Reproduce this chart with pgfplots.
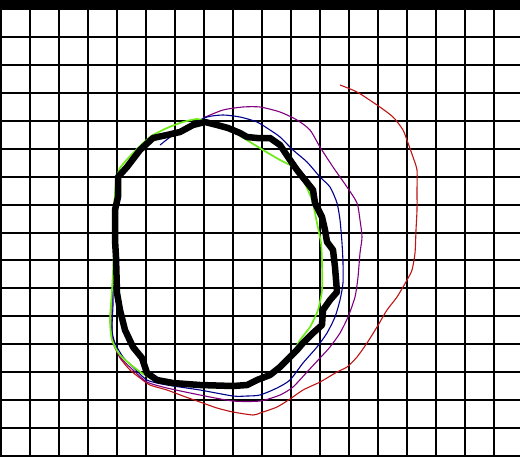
\documentclass[border=0pt]{standalone}
\usepackage{pgfplots}
\pgfplotsset{compat=1.18}
\definecolor{cred}{RGB}{190,20,20}
\definecolor{cpurple}{RGB}{128,0,128}
\definecolor{cblue}{RGB}{0,0,140}
\definecolor{cgreen}{RGB}{110,235,20}
\begin{document}
\begin{tikzpicture}
\begin{axis}[
  name=ax,
  scale only axis,
  width=520bp, height=457bp,
  xmin=0, xmax=520, ymin=0, ymax=457,
  y dir=reverse,
  axis line style={draw=none},
  xtick={1,30,59,88,117,146,175,204,233,262,291,320,349,378,407,436,465,494},
  ytick={9,37,65,93,121,149,177,205,233,260,288,316,344,372,400,428,456},
  xticklabels={}, yticklabels={},
  major tick length=0pt,
  grid=major,
  major grid style={black, line width=2.3bp},
  clip=true,
]
% top bar
\addplot[fill=black, draw=none] coordinates {(0,0) (520,0) (520,7.6) (0,7.6)} -- cycle;
% red
\addplot[cred, line width=1.1bp, smooth, tension=0.4] coordinates {
(340,85) (357,92) (377,105) (393,117) (403,130) (408,143) (413,157) (417,170) (417,190) (417,210) (416,230) (415,253) (412,270) (407,280) (397,297) (387,310) (377,327) (367,343) (357,357) (347,367) (337,372) (320,382) (303,390) (290,399) (277,407) (260,413) (253,415) (233,412) (217,408) (200,402) (183,396) (167,390) (150,385) (140,378) (130,370) (120,358) (115,347) (113,338)};
% purple
\addplot[cpurple, line width=1.1bp, smooth, tension=0.4] coordinates {
(203,118) (223,110) (243,107) (260,107) (280,112) (297,120) (310,130) (320,147) (333,167) (347,187) (357,203) (360,220) (362,237) (360,253) (358,277) (355,297) (348,317) (340,333) (330,347) (320,358) (307,372) (293,387) (280,395) (260,401) (233,401) (200,395) (167,388) (147,382) (133,370) (120,357) (113,343) (112,330) (112,305) (113,283)};
% blue
\addplot[cblue, line width=1.1bp, smooth, tension=0.4] coordinates {
(160,145) (173,135) (190,125) (207,117) (223,115) (240,117) (257,122) (270,130) (280,137) (293,150) (307,162) (320,177) (330,187) (337,203) (340,220) (342,243) (343,263) (343,283) (340,300) (335,317) (327,333) (317,347) (303,363) (290,380) (277,388) (260,395) (247,396) (233,396) (200,390) (167,385) (147,380) (133,367) (123,357) (115,343) (112,330) (113,305) (113,285)};
% green
\addplot[cgreen, line width=1.7bp, smooth, tension=0.4] coordinates {
(116,180) (120,168) (133,153) (150,137) (167,128) (183,122) (197,119) (205,121) (220,126) (235,133) (250,142) (263,150) (280,160) (293,167) (303,180) (312,200) (317,223) (321,243) (322,263) (322,290) (318,310) (310,327) (300,340) (292,353) (270,375) (250,385) (223,388) (200,386) (170,383) (150,378) (135,368) (120,355) (112,340) (110,320) (112,290) (114,250) (114,210) (116,180)};
% black
\addplot[black, line width=6.5bp, line join=round, line cap=round] coordinates {
(117,293) (116,257) (115,240) (115,210) (118,197) (118,177) (127,167) (140,150) (153,138) (167,135) (180,132) (193,125) (205,122) (217,125) (228,128) (240,133) (247,137) (257,138) (270,138) (280,145) (288,157) (297,170) (305,180) (313,190) (315,203) (322,217) (325,230) (327,242) (333,250) (335,267) (337,292) (330,300) (323,310) (322,325) (313,333) (303,343) (297,350) (287,360) (280,367) (270,375) (257,380) (247,385) (233,386) (200,385) (173,383) (157,380) (147,373) (142,358) (133,347) (125,330) (120,310) (117,293)};
\end{axis}
\pgfresetboundingbox
\path[use as bounding box] (ax.south west) rectangle (ax.north east);
\end{tikzpicture}
\end{document}
